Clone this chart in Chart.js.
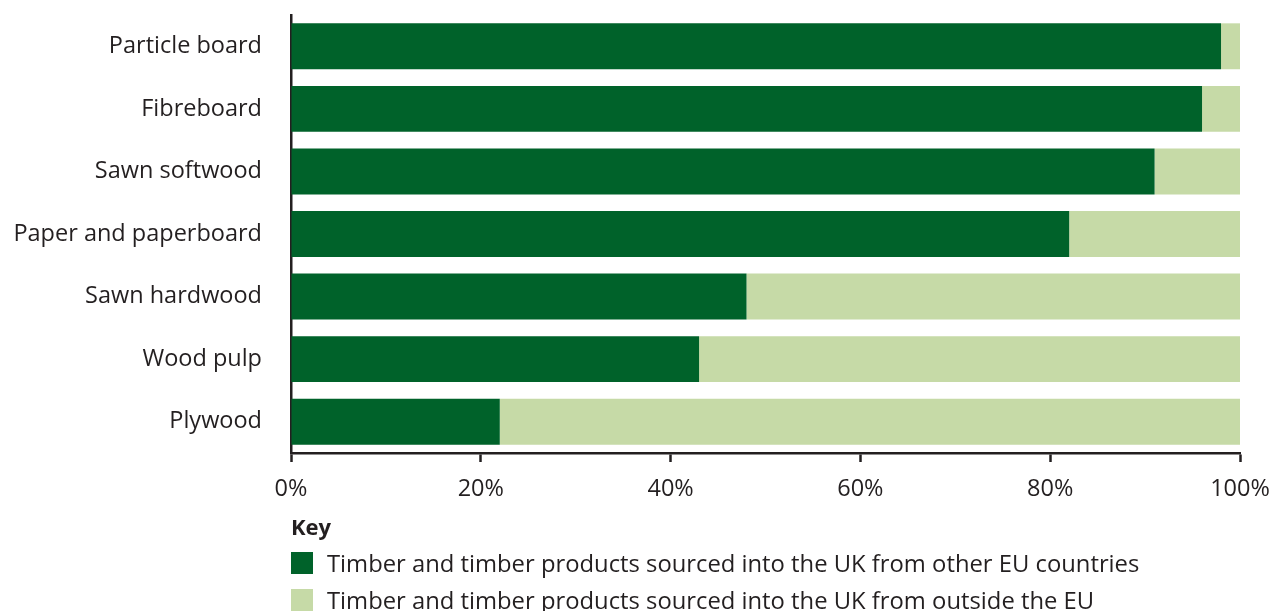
<!DOCTYPE html>
<html>
<head>
<meta charset="utf-8">
<script src="https://cdn.jsdelivr.net/npm/chart.js@4"></script>
<style>
  html, body { margin: 0; padding: 0; background: #fff; }
  .wrap { position: relative; width: 1271px; height: 611px; }
  #timberChart { position: absolute; left: 0; top: 0; }
  .key { position: absolute; left: 291px; top: 512px; font-family: "Open Sans", sans-serif; color: #231f20; }
  .key h4 { margin: 0 0 4px 0; font-size: 22px; font-weight: 700; line-height: 28px; }
  .key .item { display: flex; align-items: center; height: 37px; font-size: 23.8px; white-space: nowrap; }
  .key .sw { width: 22px; height: 22px; margin-right: 14px; flex: none; }
</style>
</head>
<body>
<div class="wrap">
  <canvas id="timberChart" width="1271" height="611"></canvas>
  <div class="key">
    <h4>Key</h4>
    <div class="item"><span class="sw" style="background:#00622a"></span>Timber and timber products sourced into the UK from other EU countries</div>
    <div class="item"><span class="sw" style="background:#c6daa7"></span>Timber and timber products sourced into the UK from outside the EU</div>
  </div>
</div>
<script>
const categories = ["Particle board", "Fibreboard", "Sawn softwood", "Paper and paperboard", "Sawn hardwood", "Wood pulp", "Plywood"];
const fromEU = [98, 96, 91, 82, 48, 43, 22];
const outsideEU = [2, 4, 9, 18, 52, 57, 78];
const xTicks = [0, 20, 40, 60, 80, 100];

const dark = "#00622a";
const light = "#c6daa7";
const ink = "#231f20";

document.addEventListener("DOMContentLoaded", function () {
  const el = document.getElementById("timberChart");
  new Chart(el.getContext("2d"), {
    type: "bar",
    data: {
      labels: categories,
      datasets: [
        { label: "From other EU countries", data: fromEU, backgroundColor: dark, borderWidth: 0 },
        { label: "From outside the EU", data: outsideEU, backgroundColor: light, borderWidth: 0 },
      ],
    },
    options: {
      indexAxis: "y",
      responsive: false,
      animation: false,
      barPercentage: 0.734,
      categoryPercentage: 1,
      layout: { padding: { top: 15, right: 31, bottom: 108, left: 0 } },
      plugins: { legend: { display: false }, tooltip: { enabled: false } },
      scales: {
        x: {
          stacked: true,
          min: 0,
          max: 100,
          afterBuildTicks: (s) => { s.ticks = xTicks.map((v) => ({ value: v })); },
          afterFit: (s) => { s.height = 50; s.paddingLeft = 0; s.paddingRight = 0; },
          border: { display: true, color: ink, width: 2.5 },
          grid: { drawOnChartArea: false, drawTicks: true, tickLength: 9, tickWidth: 2.5, tickColor: ink },
          ticks: { color: ink, padding: 13, font: { family: "Open Sans", size: 23.5 }, callback: (v) => v + "%", maxRotation: 0 },
        },
        y: {
          stacked: true,
          z: 1,
          afterFit: (s) => { s.width = 291; s.paddingTop = 0; s.paddingBottom = 0; },
          border: { display: true, color: ink, width: 2.5 },
          grid: { display: false, drawTicks: false },
          ticks: { color: ink, padding: 29, font: { family: "Open Sans", size: 23.5 } },
        },
      },
    },
  });
});
</script>
</body>
</html>
